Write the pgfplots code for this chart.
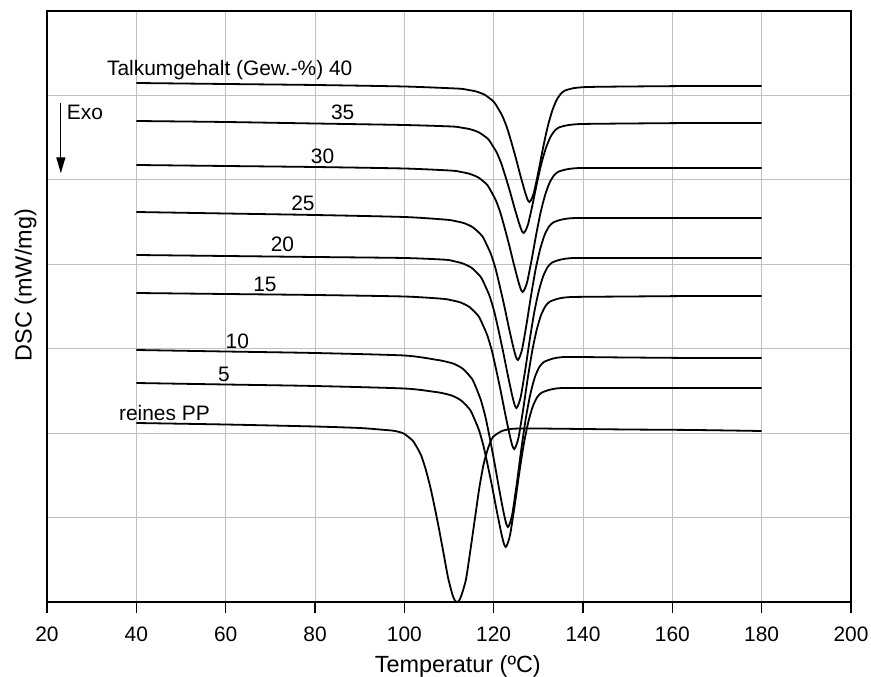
\documentclass[border=0pt]{standalone}
\usepackage{fontspec}
\setmainfont{Liberation Sans}
\usepackage{pgfplots}
\pgfplotsset{compat=1.18}
\usetikzlibrary{arrows.meta}

\pgfplotsset{dsc/.style={black, solid, mark=none, line width=1.8bp, smooth, tension=0.4}}

\begin{document}
\begin{tikzpicture}
\begin{axis}[
  name=ax,
  scale only axis,
  width=804bp, height=591bp,
  xmin=20, xmax=200, ymin=0, ymax=591,
  xtick={20,40,...,200},
  ytick={84.43,168.86,253.29,337.71,422.14,506.57},
  yticklabels={},
  major tick length=0pt,
  grid=major,
  major grid style={line width=1.0bp, gray!50},
  axis line style={line width=1.9bp},
  tick label style={font=\fontsize{21}{24}\selectfont},
  /pgf/number format/assume math mode=true,
  xticklabel style={anchor=base, yshift=-39bp},
  xlabel={Temperatur (ºC)},
  ylabel={DSC (mW/mg)},
  label style={font=\fontsize{23.5}{26}\selectfont},
  xlabel style={at={(axis description cs:0.511,-0.120)}, anchor=base},
  ylabel style={at={(axis description cs:-0.019,0.536)}, anchor=base},
  clip=false,
]

% 40 Gew.-% Talk
\addplot[dsc] coordinates {(40,519) (60,518) (80,517) (100,515.5) (112,513.4) (114,512.3) (116,510.6) (118,507.2) (120,500.3) (121,493.5) (122,485.5) (123,474.1) (124,459.3) (125,443.3) (126,426.2) (127,410.3) (127.6,402.3) (128,400) (128.4,402.3) (129,409.2) (130,429.9) (131,452.9) (132,473.6) (133,489.7) (134,501.2) (135,508.1) (136,511.5) (138,513.9) (141,515) (150,515.5) (165,516) (180,516)};
% 35
\addplot[dsc] coordinates {(40,481) (60,480) (80,478.5) (100,477) (110.7,475.5) (112.7,474.4) (114.7,472.8) (116.7,469.6) (118.7,463.2) (119.7,456.7) (120.7,449.3) (121.7,438.6) (122.7,424.6) (123.7,409.7) (124.7,393.6) (125.7,378.6) (126.3,371.1) (126.7,369) (127.1,371.2) (127.7,377.7) (128.7,397.3) (129.7,419.1) (130.7,438.8) (131.7,454.0) (132.7,464.9) (133.7,471.5) (134.7,474.7) (136.7,476.9) (139.7,478) (150,478.5) (165,479) (180,479)};
% 30
\addplot[dsc] coordinates {(40,437) (60,436) (80,435) (100,433.5) (110.5,431.4) (112.5,430.2) (114.5,428.3) (116.5,424.7) (118.5,417.4) (119.5,410.0) (120.5,401.5) (121.5,389.3) (122.5,373.4) (123.5,356.4) (124.5,338.1) (125.5,321.0) (126.1,312.4) (126.5,310) (126.9,312.5) (127.5,319.9) (128.5,342.2) (129.5,367.0) (130.5,389.4) (131.5,406.7) (132.5,419.1) (133.5,426.6) (134.5,430.3) (136.5,432.8) (139.5,434) (150,434) (165,434) (180,434)};
% 25
\addplot[dsc] coordinates {(40,390) (60,388.5) (80,387) (100,385) (109.4,382.3) (111.4,380.9) (113.4,378.8) (115.4,374.5) (117.4,366.1) (118.4,357.6) (119.4,347.8) (120.4,333.7) (121.4,315.3) (122.4,295.6) (123.4,274.4) (124.4,254.7) (125.0,244.8) (125.4,242) (125.8,244.8) (126.4,253.4) (127.4,278.9) (128.4,307.3) (129.4,332.9) (130.4,352.8) (131.4,367.0) (132.4,375.5) (133.4,379.7) (135.4,382.6) (138.4,384) (150,384) (165,384) (180,384)};
% 20
\addplot[dsc] coordinates {(40,347) (60,346) (80,345) (100,344) (109.1,342.3) (111.1,340.8) (113.1,338.5) (115.1,334.1) (117.1,325.1) (118.1,316.2) (119.1,305.8) (120.1,290.9) (121.1,271.5) (122.1,250.6) (123.1,228.3) (124.1,207.4) (124.7,197.0) (125.1,194) (125.5,197.0) (126.1,206.0) (127.1,233.0) (128.1,263.0) (129.1,290.0) (130.1,311.0) (131.1,326.0) (132.1,335.0) (133.1,339.5) (135.1,342.5) (138.1,344) (150,344) (165,344) (180,344)};
% 15
\addplot[dsc] coordinates {(40,309) (60,308) (80,307) (100,305.5) (108.6,303.2) (110.6,301.7) (112.6,299.5) (114.6,294.9) (116.6,285.9) (117.6,276.8) (118.6,266.3) (119.6,251.2) (120.6,231.5) (121.6,210.4) (122.6,187.7) (123.6,166.6) (124.2,156.0) (124.6,153) (125.0,156.0) (125.6,165.2) (126.6,192.5) (127.6,222.9) (128.6,250.3) (129.6,271.6) (130.6,286.8) (131.6,295.9) (132.6,300.4) (134.6,303.5) (137.6,305) (150,305.5) (165,306) (180,306)};
% 10
\addplot[dsc] coordinates {(40,252) (60,250.5) (80,249) (100,246.5) (107.2,242.2) (109.2,240.5) (111.2,238.0) (113.2,232.9) (115.2,222.8) (116.2,212.8) (117.2,201.0) (118.2,184.2) (119.2,162.4) (120.2,138.8) (121.2,113.6) (122.2,90.1) (122.8,78.4) (123.2,75) (123.6,78.4) (124.2,88.6) (125.2,119.2) (126.2,153.2) (127.2,183.8) (128.2,207.6) (129.2,224.6) (130.2,234.8) (131.2,239.9) (133.2,243.3) (136.2,245) (150,244.5) (165,244) (180,244)};
% 5
\addplot[dsc] coordinates {(40,219) (60,217.5) (80,216) (100,213.5) (106.7,210.2) (108.7,208.7) (110.7,206.3) (112.7,201.6) (114.7,192.3) (115.7,182.9) (116.7,172.0) (117.7,156.4) (118.7,136.1) (119.7,114.3) (120.7,90.9) (121.7,69.0) (122.3,58.1) (122.7,55) (123.1,58.2) (123.7,67.7) (124.7,96.3) (125.7,128.1) (126.7,156.8) (127.7,179.0) (128.7,194.9) (129.7,204.5) (130.7,209.2) (132.7,212.4) (135.7,214) (150,214) (165,214) (180,214)};
% reines PP
\addplot[dsc] coordinates {(40,179) (60,177.5) (80,175.5) (90,174) (95.8,172) (97.8,171.1) (99.8,168.6) (101.8,161.7) (102.8,154.8) (103.8,146.2) (104.8,132.4) (105.8,115.2) (106.8,94.6) (107.8,72.2) (108.8,48.2) (109.8,24.1) (110.8,6.9) (111.4,0.9) (111.8,0) (112.2,0.9) (112.8,6.9) (113.8,22.6) (114.8,52.1) (115.8,83.3) (116.8,114.5) (117.8,138.8) (118.8,154.4) (119.8,164.8) (121.8,170.9) (123.8,173.0) (125.8,173.5) (130,173.5) (150,172.5) (165,172) (180,171)};

\begin{scope}[every node/.style={font=\fontsize{21}{24}\selectfont, inner sep=0pt}]
  \node[anchor=base west] at (axis cs:33.4,526) {Talkumgehalt (Gew.-\%) 40};
  \node[anchor=base] at (axis cs:86.2,482) {35};
  \node[anchor=base] at (axis cs:81.7,438.7) {30};
  \node[anchor=base] at (axis cs:77.3,391) {25};
  \node[anchor=base] at (axis cs:72.7,350) {20};
  \node[anchor=base] at (axis cs:68.8,310) {15};
  \node[anchor=base] at (axis cs:62.6,253.7) {10};
  \node[anchor=base] at (axis cs:59.6,220) {5};
  \node[anchor=base west] at (axis cs:36.1,181) {reines PP};
  \node[anchor=base west] at (axis cs:24.4,482) {Exo};
\end{scope}
\draw[line width=1.3bp, -{Triangle[length=16bp,width=9bp]}] (axis cs:23.1,499) -- (axis cs:23.1,428.7);
\end{axis}
% outward tick marks below the temperature axis, one every 20 degC
\foreach \i in {0,...,9}{
  \draw[line width=1.5bp, black] ([xshift=\i*89.3333bp]ax.south west) -- ++(0,-11bp);
}
\pgfresetboundingbox
\path[use as bounding box] ([xshift=-47bp,yshift=-75bp]ax.south west) rectangle ([xshift=20bp,yshift=11bp]ax.north east);
\end{tikzpicture}
\end{document}
